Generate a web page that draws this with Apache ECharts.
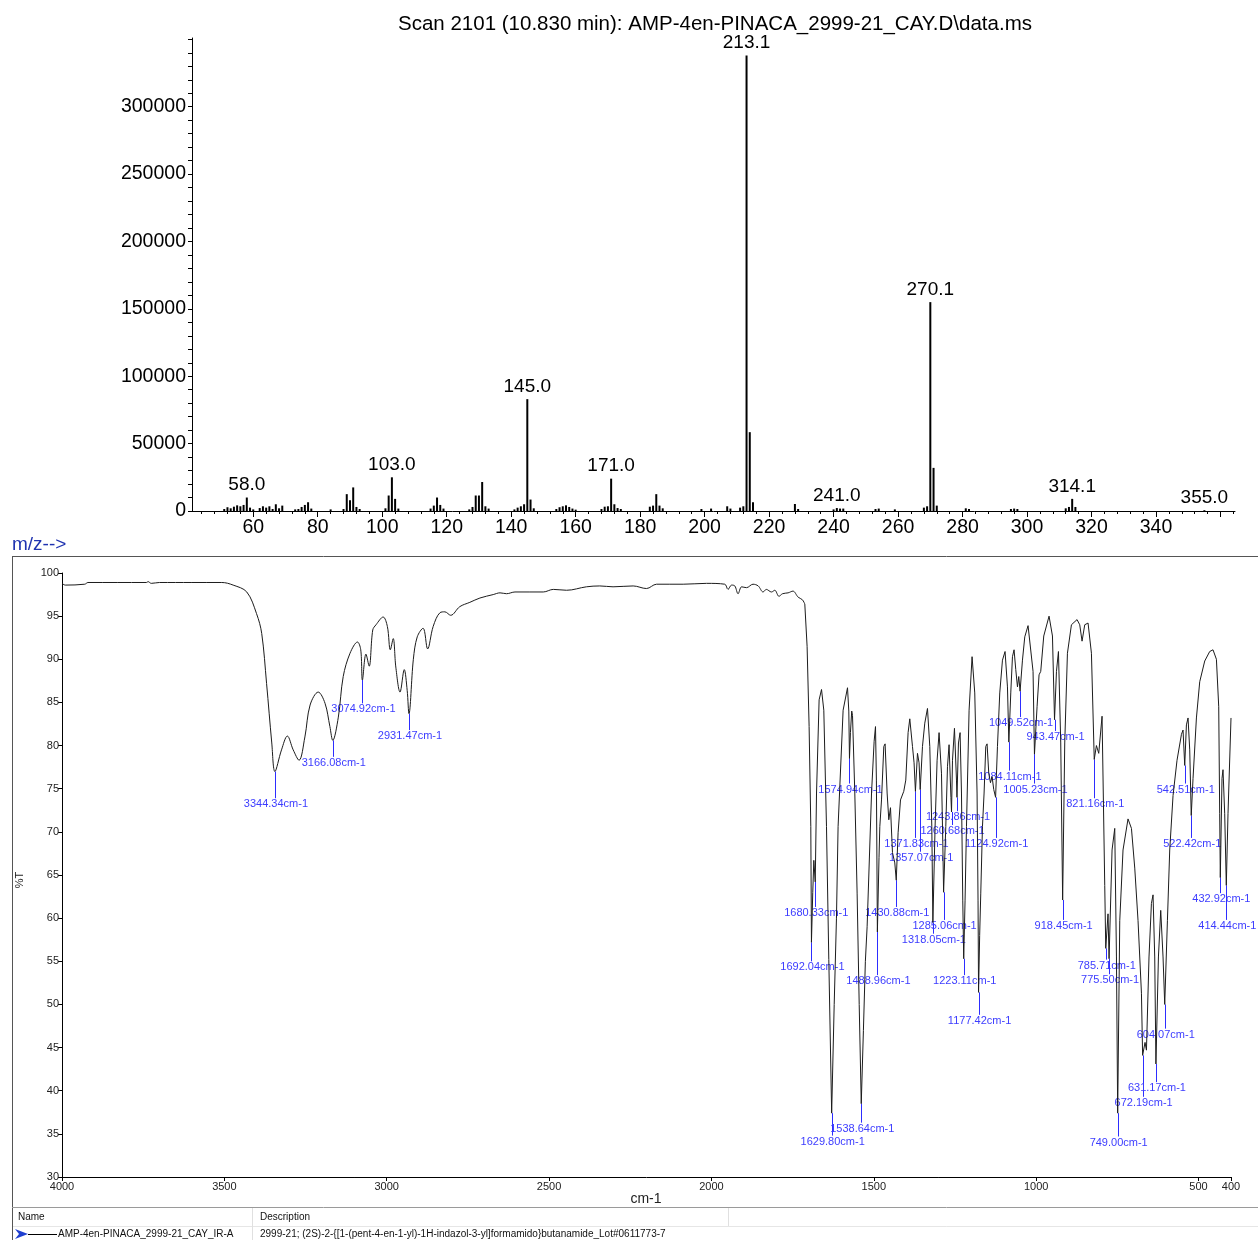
<!DOCTYPE html>
<html>
<head>
<meta charset="utf-8">
<script src="https://cdn.jsdelivr.net/npm/echarts@6/dist/echarts.min.js"></script>
<style>
html,body{margin:0;padding:0;background:#fff;}
#main{width:1258px;height:1240px;}
</style>
</head>
<body>
<div id="main"></div>
<script>
// ---------------- Mass spectrum data ----------------
const msMz = [51,52,53,54,55,56,57,58,59,60,62,63,64,65,66,67,68,69,73,74,75,76,77,78,84,88,89,90,91,92,93,101,102,103,104,105,115,116,117,118,119,127,128,129,130,131,132,133,141,142,143,144,145,146,147,154,155,156,157,158,159,160,168,169,170,171,172,173,174,183,184,185,186,187,199,202,207,208,211,212,213,214,215,228,229,240,241,242,243,253,254,259,268,269,270,271,272,281,282,295,296,297,312,313,314,315,355];
const msAbundance = [1500,2800,2000,3200,4200,3500,4500,10000,2500,1200,2200,3500,2500,3500,1500,5000,2000,4000,1200,1500,3000,4500,6500,1800,1200,1500,12500,8000,17500,3000,1500,2000,11500,25000,9000,1800,1800,4000,10000,4500,1800,1200,3000,11500,11500,21500,3500,1800,1200,2500,3500,5000,83000,8500,2000,1500,2800,3500,4200,3000,1800,1000,1500,3200,3500,24000,5000,2200,1500,3200,4000,12500,4000,2000,1500,1800,3500,1800,2500,3500,338000,58500,6500,5200,1500,1200,2200,1800,1800,1500,1800,1200,2500,3500,155000,32000,4000,2000,1500,1500,1800,1500,2000,3000,9000,3000,600];
const msLabelMz = [58,103,145,171,213,241,270,314,355];
const msLabelText = ['58.0','103.0','145.0','171.0','213.1','241.0','270.1','314.1','355.0'];
const msXLabels = [60,80,100,120,140,160,180,200,220,240,260,280,300,320,340];
const msXMajorTicks = [60,80,100,120,140,160,180,200,220,240,260,280,300,320,340,360];
const msYLabels = [0,50000,100000,150000,200000,250000,300000];
const msTitle = 'Scan 2101 (10.830 min): AMP-4en-PINACA_2999-21_CAY.D\\data.ms';

// ---------------- IR spectrum data ----------------
const irHighRegion = [
[4000,98.8],[3990,98.6],[3930,98.7],[3920,98.9],[3740,98.9],[3735,99.0],[3725,98.8],[3700,98.9],[3600,98.9],[3508,98.9],[3473,98.6],[3431,97.8],[3401,95.3],[3385,93.0],[3370,87.2],[3354,80.3],[3344.34,77.0],[3324,79.5],[3306,81.1],[3288,79.5],[3270,78.3],[3252,81.0],[3236,84.7],[3211,86.2],[3190,84.9],[3175,82.2],[3166.08,80.6],[3149,83.3],[3134,88.0],[3113,90.7],[3090,92.0],[3080,91.1],[3074.92,87.6],[3064,90.6],[3054,89.2],[3043,93.4],[3033,94.0],[3011,94.9],[2998,93.8],[2989,91.1],[2980,92.4],[2972,89.1],[2959,86.2],[2946,88.8],[2937,86.4],[2931.47,83.7],[2918,90.0],[2906,92.6],[2888,93.6],[2874,91.2],[2857,93.8],[2836,95.4],[2821,95.5],[2803,95.1],[2775,96.1],[2744,96.6],[2713,97.1],[2672,97.5],[2651,97.7],[2631,97.6],[2605,97.8],[2518,97.8],[2487,98.1],[2446,98.0],[2385,98.4],[2344,98.5],[2303,98.4],[2241,98.5],[2200,98.2],[2169,98.7],[2087,98.7],[2015,98.8],[1959,98.7],[1949,98.1],[1938,98.6],[1928,98.5],[1918,97.6],[1907,98.4],[1892,98.3],[1872,98.7],[1856,98.5],[1841,97.8],[1831,98.1],[1815,97.8],[1805,98.0],[1792,97.3],[1781,97.6],[1764,97.7],[1749,97.9],[1733,97.2],[1720,96.9],[1712.5,96.4]
];
const irFingerprint = [
[1705.4,91.5],[1699.2,82.2],[1694,70.6],[1692.04,57.2],[1688,63],[1684.7,66.7],[1680.33,64.2],[1676.4,74.5],[1668.4,85.3],[1661,86.5],[1654,84.1],[1645.7,70.6],[1638.6,55.2],[1629.8,37.4],[1622,50],[1615,60],[1610,70.6],[1594.5,84.1],[1581,86.7],[1577,84],[1574.94,78.5],[1572,81.5],[1568,84.0],[1565.6,83.5],[1558.5,74.5],[1551.4,62.9],[1545,50],[1538.64,38.5],[1532,47],[1526,55],[1520.6,59],[1507,74.5],[1499,80.5],[1494.8,82.2],[1492,76],[1488.96,58.4],[1484,67],[1481.5,70.6],[1476.3,73.7],[1469.2,79.9],[1465.2,80.2],[1459,74.5],[1453.8,71.4],[1448.6,72.8],[1442.5,67.6],[1435.4,66.4],[1430.88,64.4],[1425.2,69.9],[1417.8,73.7],[1407.7,74.7],[1401.5,76.0],[1394.4,81.5],[1389.2,83.1],[1380.9,79.9],[1376,78.0],[1371.83,74.7],[1365.5,79.1],[1360.6,78.0],[1357.07,74.9],[1350.1,79.9],[1343,82.6],[1334.7,84.3],[1327.6,79.9],[1321.4,70.6],[1318.05,59.5],[1311.3,70.6],[1305.1,78.3],[1299,81.5],[1291.6,76.8],[1287.5,68.7],[1285.06,63.0],[1278.3,70.6],[1273.1,77.6],[1268.2,80.1],[1262.5,74.0],[1260.68,72.3],[1257.7,78.3],[1251.6,82.0],[1245.4,76.0],[1243.86,74.0],[1239.3,80.3],[1234.3,81.5],[1230,74.5],[1226,62],[1223.11,55.3],[1219,62],[1214.6,70.6],[1206.6,84.1],[1197.4,90.3],[1189.1,86.1],[1182,74.5],[1179,62],[1177.42,51.4],[1174,58],[1170.6,62.9],[1165.4,70.6],[1160.4,74.5],[1155.2,79.9],[1151.2,80.2],[1146,76.8],[1140.7,75.7],[1135.8,76.4],[1130.6,74.9],[1124.92,74.0],[1119.2,79.9],[1112.1,86.1],[1103.8,89.9],[1095.8,90.9],[1088.4,86.8],[1084.11,80.4],[1078.2,86.1],[1073,90.3],[1068.1,91.1],[1062.8,88.8],[1057.6,86.8],[1053.6,88.0],[1049.52,86.3],[1042.2,89.9],[1035.1,92.6],[1025,93.9],[1019.7,93.7],[1009.6,88.6],[1005.23,79.0],[997.2,84.5],[991.1,88.2],[985.9,88.6],[976.6,92.7],[960.3,95.0],[949.8,92.7],[943.47,83.0],[937.5,88.6],[931.4,90.9],[924.3,80.3],[918.45,62.1],[912,80.3],[903.7,90.7],[891.4,94.0],[874.1,94.6],[865.8,94.0],[858.7,92.1],[850.4,94.0],[840.2,94.2],[829.8,90.7],[821.16,78.4],[814.4,80.0],[807.3,79.1],[797.1,83.4],[788.8,63.8],[785.71,56.5],[778.7,60.5],[775.5,55.3],[766.3,67.9],[758,70.4],[752.8,55.5],[749.0,37.4],[742.6,59.7],[732.5,67.9],[717.1,71.5],[706.6,70.4],[696.4,65.8],[686.3,59.7],[675.8,51.3],[672.19,44.1],[664.7,45.6],[660.4,44.7],[652.5,55.5],[645.1,61.7],[640.1,62.7],[634.9,55.5],[631.17,43.1],[623.5,55.5],[616.4,60.9],[609.3,55.5],[604.07,50.0],[595.8,59.7],[588.7,67.9],[578.5,74.2],[566.2,78.3],[552.6,81.3],[547.7,81.8],[542.51,77.7],[537.3,82.4],[532.3,83.2],[527.1,79.5],[522.42,71.9],[516.9,76.2],[506.5,83.2],[496.3,87.4],[480.9,89.8],[465.6,90.9],[455.4,91.1],[444.9,90.0],[437.8,84.5],[434.8,72.1],[432.92,64.7],[427.7,76.2],[424.6,77.2],[419.4,72.1],[414.44,63.8],[409.2,72.1],[400,83.2]
];
const irPeakWn = [3344.34,3166.08,3074.92,2931.47,1692.04,1680.33,1629.80,1574.94,1538.64,1488.96,1430.88,1371.83,1357.07,1318.05,1285.06,1260.68,1243.86,1223.11,1177.42,1124.92,1084.11,1049.52,1005.23,943.47,918.45,821.16,785.71,775.50,749.00,672.19,631.17,604.07,542.51,522.42,432.92,414.44];
const irPeakLabelLevel = [73.2,78.0,84.2,81.1,54.3,60.6,34.1,74.9,35.6,52.7,60.6,68.6,67.0,57.5,59.1,70.1,71.7,52.7,48.1,68.6,76.4,82.6,74.9,81.0,59.1,73.2,54.5,52.8,34.0,38.6,40.3,46.5,74.9,68.6,62.2,59.1];
const irXLabels = [4000,3500,3000,2500,2000,1500,1000,500,400];
const irLegendName = 'AMP-4en-PINACA_2999-21_CAY_IR-A';
const irLegendDesc = '2999-21; (2S)-2-{[1-(pent-4-en-1-yl)-1H-indazol-3-yl]formamido}butanamide_Lot#0611773-7';

// ---------------- build ----------------
const FONT = '"Liberation Sans", Arial, sans-serif';
const irSpectrum = irHighRegion.concat(irFingerprint);
function irValueAt(wn){
  for (let i = 0; i < irSpectrum.length - 1; i++){
    const a = irSpectrum[i], b = irSpectrum[i+1];
    if (wn <= a[0] && wn >= b[0]){
      const t = (a[0] - wn) / (a[0] - b[0] || 1);
      return a[1] + (b[1] - a[1]) * t;
    }
  }
  return irSpectrum[irSpectrum.length-1][1];
}
const plain = v => String(v);
const msData = msMz.map((m, i) => {
  const li = msLabelMz.indexOf(m);
  const item = { value: [m, msAbundance[i]] };
  if (li >= 0) {
    item.label = { show: true, position: 'top', distance: 3, formatter: msLabelText[li],
      fontSize: 19, fontFamily: FONT, color: '#000' };
  }
  return item;
});
const msMinorTicks = [];
for (let v = 44; v <= 364; v += 4) { if (v % 20 !== 0) msMinorTicks.push(v); }
const msYTicks = [];
for (let v = 0; v <= 350000; v += 10000) msYTicks.push(v);
const peakData = irPeakWn.map((w, i) => [w, irValueAt(w), irPeakLabelLevel[i]]);
const fingerprintSeriesData = [irHighRegion[irHighRegion.length - 1]].concat(irFingerprint);

const chart = echarts.init(document.getElementById('main'));
chart.setOption({
  animation: false,
  backgroundColor: '#fff',
  grid: [
    { left: 192, top: 38, width: 1043, height: 473 },
    { left: 62, top: 573, width: 1169, height: 604 }
  ],
  xAxis: [
    { gridIndex: 0, type: 'value', min: 41, max: 364.5, position: 'bottom',
      axisLine: { show: true, lineStyle: { color: '#000', width: 1 } },
      axisTick: { show: true, length: 6, customValues: msXMajorTicks, lineStyle: { color: '#000' } },
      axisLabel: { customValues: msXLabels, formatter: plain, fontSize: 19.5, fontFamily: FONT, color: '#000', margin: 7 },
      splitLine: { show: false } },
    { gridIndex: 0, type: 'value', min: 41, max: 364.5, position: 'bottom',
      axisLine: { show: false },
      axisTick: { show: true, length: 3, customValues: msMinorTicks, lineStyle: { color: '#000' } },
      axisLabel: { show: false }, splitLine: { show: false } },
    { gridIndex: 1, type: 'value', min: 400, max: 4000, inverse: true,
      axisLine: { show: true, lineStyle: { color: '#000', width: 1 } },
      axisTick: { show: true, length: 4, customValues: irXLabels, lineStyle: { color: '#000' } },
      axisLabel: { customValues: irXLabels, formatter: plain, fontSize: 11, fontFamily: FONT, color: '#222', margin: 4 },
      splitLine: { show: false } }
  ],
  yAxis: [
    { gridIndex: 0, type: 'value', min: 0, max: 351000,
      axisLine: { show: true, lineStyle: { color: '#000', width: 1 } },
      axisTick: { show: true, length: 4, customValues: msYTicks, lineStyle: { color: '#000' } },
      axisLabel: { customValues: msYLabels, formatter: plain, fontSize: 19.5, fontFamily: FONT, color: '#000', margin: 6 },
      splitLine: { show: false } },
    { gridIndex: 1, type: 'value', min: 30, max: 100, interval: 5,
      axisLine: { show: true, lineStyle: { color: '#000', width: 1 } },
      axisTick: { show: true, length: 4, lineStyle: { color: '#000' } },
      axisLabel: { formatter: plain, fontSize: 11, fontFamily: FONT, color: '#222', margin: 3 },
      splitLine: { show: false } }
  ],
  series: [
    { type: 'bar', xAxisIndex: 0, yAxisIndex: 0, data: msData, barWidth: 2,
      itemStyle: { color: '#000' }, silent: true },
    { type: 'line', xAxisIndex: 2, yAxisIndex: 1, data: irHighRegion, showSymbol: false, smooth: 0.35,
      lineStyle: { color: '#1c1c1c', width: 1 }, silent: true },
    { type: 'line', xAxisIndex: 2, yAxisIndex: 1, data: fingerprintSeriesData, showSymbol: false,
      lineStyle: { color: '#1c1c1c', width: 1 }, silent: true },
    { type: 'custom', xAxisIndex: 2, yAxisIndex: 1, data: peakData, silent: true, clip: false,
      encode: { x: 0, y: 1 },
      renderItem: function (params, api) {
        const wn = api.value(0), tip = api.value(1), lvl = api.value(2);
        const p1 = api.coord([wn, tip]);
        const p2 = api.coord([wn, lvl]);
        const x = Math.round(p1[0]) + 0.5;
        return { type: 'group', children: [
          { type: 'line', shape: { x1: x, y1: p1[1], x2: x, y2: p2[1] - 6 },
            style: { stroke: '#2d2dff', lineWidth: 1 } },
          { type: 'text', x: p2[0] + 1, y: p2[1],
            style: { text: wn.toFixed(2) + 'cm-1', fill: '#3c3cff', fontSize: 11, fontFamily: FONT,
              align: 'center', verticalAlign: 'middle' } }
        ] };
      } }
  ],
  graphic: [
    { type: 'text', x: 715, y: 24, style: { text: msTitle, fontSize: 20.5, fontFamily: FONT, fill: '#000', align: 'center', verticalAlign: 'middle' } },
    { type: 'text', x: 12, y: 545, style: { text: 'm/z-->', fontSize: 19, fontFamily: FONT, fill: '#1f33b0', align: 'left', verticalAlign: 'middle' } },
    { type: 'line', shape: { x1: 12, y1: 556.5, x2: 1258, y2: 556.5 }, style: { stroke: '#555', lineWidth: 1 } },
    { type: 'line', shape: { x1: 12.5, y1: 556, x2: 12.5, y2: 1240 }, style: { stroke: '#555', lineWidth: 1 } },
    { type: 'text', x: 20, y: 880, rotation: Math.PI / 2, style: { text: '%T', fontSize: 11, fontFamily: FONT, fill: '#222', align: 'center', verticalAlign: 'middle' } },
    { type: 'text', x: 646, y: 1199, style: { text: 'cm-1', fontSize: 14, fontFamily: FONT, fill: '#222', align: 'center', verticalAlign: 'middle' } },
    { type: 'line', shape: { x1: 12, y1: 1207.5, x2: 1258, y2: 1207.5 }, style: { stroke: '#9a9a9a', lineWidth: 1 } },
    { type: 'line', shape: { x1: 13, y1: 1226.5, x2: 1258, y2: 1226.5 }, style: { stroke: '#e6e6e6', lineWidth: 1 } },
    { type: 'line', shape: { x1: 252.5, y1: 1208, x2: 252.5, y2: 1240 }, style: { stroke: '#e0e0e0', lineWidth: 1 } },
    { type: 'line', shape: { x1: 728.5, y1: 1208, x2: 728.5, y2: 1226 }, style: { stroke: '#e0e0e0', lineWidth: 1 } },
    { type: 'text', x: 18, y: 1217, style: { text: 'Name', fontSize: 10, fontFamily: FONT, fill: '#111', verticalAlign: 'middle' } },
    { type: 'text', x: 260, y: 1217, style: { text: 'Description', fontSize: 10, fontFamily: FONT, fill: '#111', verticalAlign: 'middle' } },
    { type: 'polygon', shape: { points: [[15,1229],[28,1234],[15,1239],[19,1234]] }, style: { fill: '#1f3fd0' } },
    { type: 'line', shape: { x1: 28, y1: 1234.5, x2: 57, y2: 1234.5 }, style: { stroke: '#000', lineWidth: 1 } },
    { type: 'text', x: 58, y: 1234, style: { text: irLegendName, fontSize: 10, fontFamily: FONT, fill: '#111', verticalAlign: 'middle' } },
    { type: 'text', x: 260, y: 1234, style: { text: irLegendDesc, fontSize: 10, fontFamily: FONT, fill: '#111', verticalAlign: 'middle' } }
  ]
});
</script>
</body>
</html>
